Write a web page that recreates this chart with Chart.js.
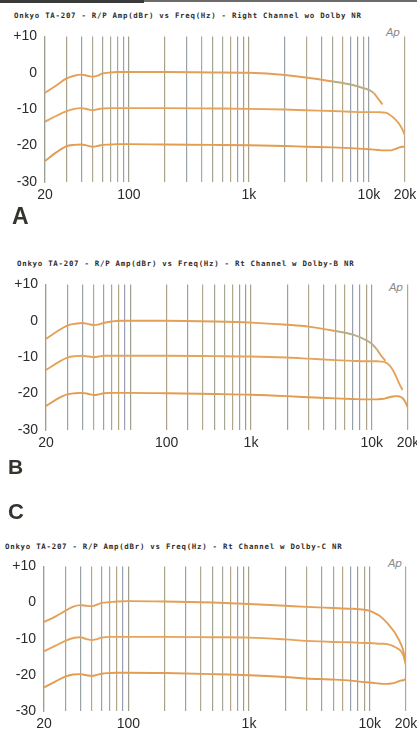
<!DOCTYPE html>
<html>
<head>
<meta charset="utf-8">
<script src="https://cdn.jsdelivr.net/npm/chart.js@4"></script>
<style>
  html, body { margin: 0; padding: 0; background: #ffffff; }
  body { width: 417px; height: 731px; position: relative; overflow: hidden; }
  canvas { position: absolute; left: 0; }
  .title { position: absolute; font-family: "DejaVu Sans Mono", monospace; font-weight: bold;
           font-size: 7.4px; letter-spacing: 0.74px; color: #2d2d2d; white-space: nowrap; line-height: 8px; }
  .letter { position: absolute; font-family: "Liberation Sans", Arial, sans-serif; font-weight: bold; color: #34342c; line-height: 1; }
  .ap { position: absolute; font-family: "DejaVu Sans", sans-serif; font-style: italic; font-size: 11px; color: #8a8a8a; line-height: 1; letter-spacing: -0.5px; }
  .edge1 { position: absolute; left: 0; top: 0; width: 144px; height: 3px; background: #3a3a3a; }
  .edge2 { position: absolute; left: 144px; top: 0; width: 273px; height: 2px; background: #6a6a6a; }
</style>
</head>
<body>
<div class="edge1"></div><div class="edge2"></div>

<div class="title" style="left:14px; top:12px;">Onkyo TA-207 - R/P Amp(dBr) vs Freq(Hz) - Right Channel wo Dolby NR</div>
<div class="ap" style="left:386px; top:27px;">Ap</div>
<canvas id="chartA" width="417" height="190" style="top:20px;"></canvas>
<div class="letter" style="left:12px; top:205px; font-size:23px;">A</div>

<div class="title" style="left:17px; top:260px;">Onkyo TA-207 - R/P Amp(dBr) vs Freq(Hz) - Rt Channel w Dolby-B NR</div>
<div class="ap" style="left:389px; top:282px;">Ap</div>
<canvas id="chartB" width="417" height="190" style="top:268px;"></canvas>
<div class="letter" style="left:8px; top:456px; font-size:21px;">B</div>

<div class="letter" style="left:8px; top:501px; font-size:22px;">C</div>
<div class="title" style="left:5px; top:543px;">Onkyo TA-207 - R/P Amp(dBr) vs Freq(Hz) - Rt Channel w Dolby-C NR</div>
<div class="ap" style="left:388px; top:558px;">Ap</div>
<canvas id="chartC" width="417" height="189" style="top:550px;"></canvas>

<script>
// ---------- DATA ----------
const freqs = [20,25,30,35,40,45,50,55,60,70,80,100,200,500,1000,2000,3000,5000,7000,9000,10000,11000,12000,13000,14000,15000,16000,17000,18000,19000,20000];

// Chart A: Right Channel wo Dolby NR
const a_0dB   = [-5.5,-3.4,-1.6,-0.8,-0.5,-0.8,-1.1,-0.8,-0.2,0.1,0.2,0.2,0.2,0.1,0,-0.6,-1.3,-2.4,-3.2,-4.2,-4.7,-5.6,-7.2,-8.7,null,null,null,null,null,null,null];
const a_m10dB = [-13.4,-11.8,-10.6,-9.9,-9.7,-10,-10.3,-10,-9.8,-9.7,-9.7,-9.7,-9.7,-9.8,-9.9,-10.1,-10.3,-10.5,-10.7,-10.8,-10.8,-10.8,-10.8,-10.9,-11,-11.6,-12.3,-13.2,-14.2,-15.5,-17.2];
const a_m20dB = [-24.2,-21.8,-20.2,-19.8,-19.7,-20,-20.3,-20.1,-19.8,-19.7,-19.6,-19.6,-19.7,-19.8,-19.9,-20.1,-20.3,-20.5,-20.7,-20.9,-21,-21.1,-21.2,-21.3,-21.3,-21.3,-21.1,-20.8,-20.5,-20.3,-20.3];

// Chart B: Rt Channel w Dolby-B NR
const b_0dB   = [-5.0,-2.8,-1.3,-0.8,-0.6,-0.9,-1.2,-1.0,-0.6,-0.2,0,0,0,-0.2,-0.5,-1.1,-1.6,-2.8,-3.8,-5.3,-6.3,-7.8,-9.6,-11,null,null,null,null,null,null,null];
const b_m10dB = [-13.5,-11.5,-10.1,-9.7,-9.6,-9.8,-10,-9.8,-9.6,-9.6,-9.6,-9.6,-9.6,-9.7,-9.8,-10.1,-10.4,-10.8,-11,-11.1,-11.1,-11.1,-11.2,-11.4,-12.2,-13.6,-15.4,-17.4,-19,null,null];
const b_m20dB = [-23.4,-21.4,-20.2,-19.9,-19.8,-20.1,-20.4,-20.2,-19.9,-19.8,-19.8,-19.8,-19.9,-20.1,-20.3,-20.7,-21,-21.3,-21.5,-21.6,-21.6,-21.6,-21.5,-21.3,-21,-20.8,-20.7,-20.8,-21.2,-22.3,-24];

// Chart C: Rt Channel w Dolby-C NR
const c_0dB   = [-5.4,-3.8,-2.3,-1.1,-0.7,-0.9,-1.0,-0.6,-0.1,0.1,0.3,0.4,0.3,0,-0.4,-0.9,-1.2,-1.5,-1.7,-2.0,-2.3,-2.9,-3.6,-4.6,-5.7,-6.9,-8.1,-9.6,-11.2,-13.3,-17];
const c_m10dB = [-13.5,-11.9,-10.6,-9.8,-9.6,-10.1,-10.4,-10.1,-9.7,-9.5,-9.5,-9.5,-9.5,-9.6,-9.7,-10.2,-10.6,-10.9,-11,-11.2,-11.2,-11.3,-11.4,-11.4,-11.5,-11.8,-12.2,-12.7,-13.3,-14.6,-17.5];
const c_m20dB = [-23.5,-21.8,-20.5,-19.9,-19.8,-20.1,-20.3,-20,-19.7,-19.5,-19.4,-19.4,-19.5,-19.8,-20.1,-20.6,-21,-21.3,-21.6,-22,-22.1,-22.3,-22.4,-22.5,-22.5,-22.4,-22.2,-21.9,-21.6,-21.5,-21];

// Grid (log frequency) and tick labels
const gridFreqs = [20,30,40,50,60,70,80,90,100,200,300,400,500,600,700,800,900,1000,2000,3000,4000,5000,6000,7000,8000,9000,10000,20000];
const xTickValuesA = [20,100,1000,10000,20000];
const xTickLabelsA = ['20','100','1k','10k','20k'];
const xTickValuesB = [20,200,1000,10000,20000];
const xTickLabelsB = ['20','100','1k','10k','20k'];
const xTickValuesC = [20,100,1000,10000,20000];
const xTickLabelsC = ['20','100','1k','10k','20k'];
const yTicks = [10,0,-10,-20,-30];
const yTickLabels = ['+10','0','-10','-20','-30'];

// ---------- CHARTS ----------
const gridPalette = ['#9aa08e','#aaa288','#98a0a8','#b0a890','#a0a494','#a4a898','#b4a488','#98a0ac'];
const curveColors = ['#e3a056','#e6a45a','#e39c50'];
const fadedColor = '#b9ad84';

function toPts(vals) { return freqs.map((f, i) => ({ x: f, y: vals[i] })); }

function makeChart(id, series, tickVals, tickLabels, leftW, rightPad, fadeTop) {
  const labelMap = {};
  tickVals.forEach((v, i) => { labelMap[v] = tickLabels[i]; });
  const yMap = {};
  yTicks.forEach((v, i) => { yMap[v] = yTickLabels[i]; });
  return new Chart(document.getElementById(id), {
    type: 'line',
    data: {
      datasets: series.map((s, i) => ({
        data: toPts(s),
        borderColor: curveColors[i],
        borderWidth: 1.9,
        pointRadius: 0,
        cubicInterpolationMode: 'monotone',
        spanGaps: false,
        fill: false,
        segment: (fadeTop && i === 0) ? {
          borderColor: (ctx) => (ctx.p0.parsed.x >= 5000 && ctx.p1.parsed.x <= 11000 ? fadedColor : undefined)
        } : undefined
      }))
    },
    options: {
      responsive: false,
      animation: false,
      devicePixelRatio: 1,
      layout: { padding: { top: 8, right: rightPad, bottom: 0, left: 0 } },
      plugins: { legend: { display: false }, tooltip: { enabled: false }, title: { display: false } },
      scales: {
        x: {
          type: 'logarithmic',
          min: 20, max: 20000,
          afterBuildTicks: (scale) => { scale.ticks = gridFreqs.map(v => ({ value: v })); },
          afterFit: (scale) => { scale.height = 28; scale.paddingLeft = 0; scale.paddingRight = 0; },
          grid: {
            drawTicks: false,
            color: (ctx) => gridPalette[ctx.index % gridPalette.length],
            lineWidth: 1.2
          },
          border: { display: false },
          ticks: {
            autoSkip: false, maxRotation: 0, minRotation: 0, padding: 5,
            color: '#2b2b2b',
            font: { family: 'Liberation Sans, Arial, sans-serif', size: 14 },
            callback: (v) => (labelMap[v] !== undefined ? labelMap[v] : '')
          }
        },
        y: {
          min: -30, max: 10,
          afterBuildTicks: (scale) => { scale.ticks = yTicks.map(v => ({ value: v })); },
          afterFit: (scale) => { scale.width = leftW; },
          grid: { display: false, drawTicks: false },
          border: { display: true, color: '#9aa08e', width: 1.2 },
          ticks: {
            padding: 8,
            color: '#2b2b2b',
            font: { family: 'Liberation Sans, Arial, sans-serif', size: 14 },
            callback: (v) => (yMap[v] !== undefined ? yMap[v] : '')
          }
        }
      }
    }
  });
}

makeChart('chartA', [a_0dB, a_m10dB, a_m20dB], xTickValuesA, xTickLabelsA, 45, 12, true);
makeChart('chartB', [b_0dB, b_m10dB, b_m20dB], xTickValuesB, xTickLabelsB, 46, 9, true);
makeChart('chartC', [c_0dB, c_m10dB, c_m20dB], xTickValuesC, xTickLabelsC, 44, 11, false);
</script>
</body>
</html>
